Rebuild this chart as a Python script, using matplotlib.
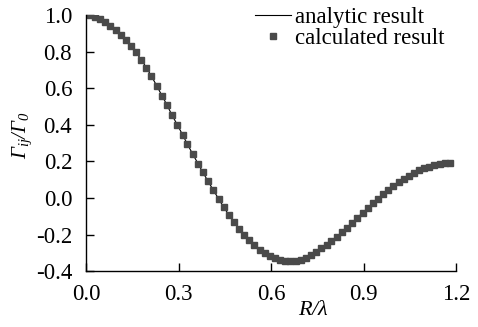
import matplotlib
matplotlib.use("Agg")
import matplotlib.pyplot as plt

plt.rcParams['font.family'] = ['Liberation Serif', 'DejaVu Serif']
plt.rcParams['mathtext.fontset'] = 'custom'
plt.rcParams['mathtext.rm'] = 'Liberation Serif:italic'
plt.rcParams['mathtext.it'] = 'Liberation Serif:italic'
plt.rcParams['mathtext.bf'] = 'Liberation Serif:bold'

r_lambda = [0.012, 0.029, 0.045, 0.062, 0.079, 0.096, 0.112, 0.129, 0.146, 0.162,
            0.179, 0.196, 0.212, 0.229, 0.246, 0.262, 0.279, 0.296, 0.313, 0.329,
            0.346, 0.363, 0.379, 0.396, 0.413, 0.430, 0.446, 0.463, 0.480, 0.496,
            0.513, 0.530, 0.546, 0.563, 0.580, 0.596, 0.613, 0.630, 0.646, 0.663,
            0.680, 0.696, 0.713, 0.730, 0.746, 0.763, 0.780, 0.796, 0.813, 0.830,
            0.847, 0.863, 0.880, 0.897, 0.913, 0.930, 0.947, 0.963, 0.980, 0.997,
            1.014, 1.030, 1.047, 1.064, 1.080, 1.097, 1.114, 1.130, 1.147, 1.164, 1.181]
ratio = [0.998, 0.990, 0.976, 0.960, 0.940, 0.916, 0.890, 0.862, 0.830, 0.796,
         0.756, 0.712, 0.666, 0.614, 0.560, 0.510, 0.452, 0.400, 0.346, 0.293,
         0.240, 0.188, 0.140, 0.090, 0.042, -0.005, -0.050, -0.092, -0.132, -0.168,
         -0.202, -0.232, -0.259, -0.283, -0.302, -0.318, -0.330, -0.338, -0.343, -0.345,
         -0.343, -0.337, -0.326, -0.312, -0.295, -0.276, -0.256, -0.235, -0.212, -0.188,
         -0.162, -0.135, -0.108, -0.082, -0.056, -0.030, -0.005, 0.020, 0.043, 0.065,
         0.085, 0.104, 0.121, 0.136, 0.150, 0.161, 0.171, 0.179, 0.185, 0.189, 0.191]

xticks = [0.0, 0.3, 0.6, 0.9, 1.2]
yticks = [-0.4, -0.2, 0.0, 0.2, 0.4, 0.6, 0.8, 1.0]

fig = plt.figure(figsize=(4.78, 3.27), dpi=100)
ax = fig.add_axes([0.180, 0.171, 0.774, 0.783])

ax.plot([0.0] + r_lambda, [1.0] + ratio, color='black', lw=0.8, label='analytic result')
ax.plot(r_lambda, ratio, ls='none', marker='s', ms=4.0, color='#4a4a4a',
        mec='#4a4a4a', label='calculated result')

ax.set_xlim(0, 1.2)
ax.set_ylim(-0.4, 1.0)
ax.set_xticks(xticks)
ax.set_yticks(yticks)
ax.set_xticklabels([f"{v:.1f}" for v in xticks])
ax.set_yticklabels([f"{v:.1f}" for v in yticks])
ax.tick_params(direction='in', length=5.5, width=1, labelsize=16.5)
ax.tick_params(axis='x', pad=9)
ax.tick_params(axis='y', pad=10)
for s in ['top', 'right']:
    ax.spines[s].set_visible(False)
for s in ['left', 'bottom']:
    ax.spines[s].set_linewidth(1.0)

ax.set_xlabel(r'$R/\lambda$', fontsize=16)
ax.xaxis.set_label_coords(0.616, -0.115)
ax.set_ylabel(r'$\mathit{Γ}_{ij}/\mathit{Γ}_0$', fontsize=15)
ax.yaxis.set_label_coords(-0.14, 0.53)

leg = ax.legend(loc='upper left', bbox_to_anchor=(0.456, 1.03), frameon=False,
                fontsize=16.5, handlelength=1.6, handletextpad=0.15, labelspacing=0.0,
                borderaxespad=0.0, borderpad=0.0)

fig.savefig('out.png', dpi=100)
